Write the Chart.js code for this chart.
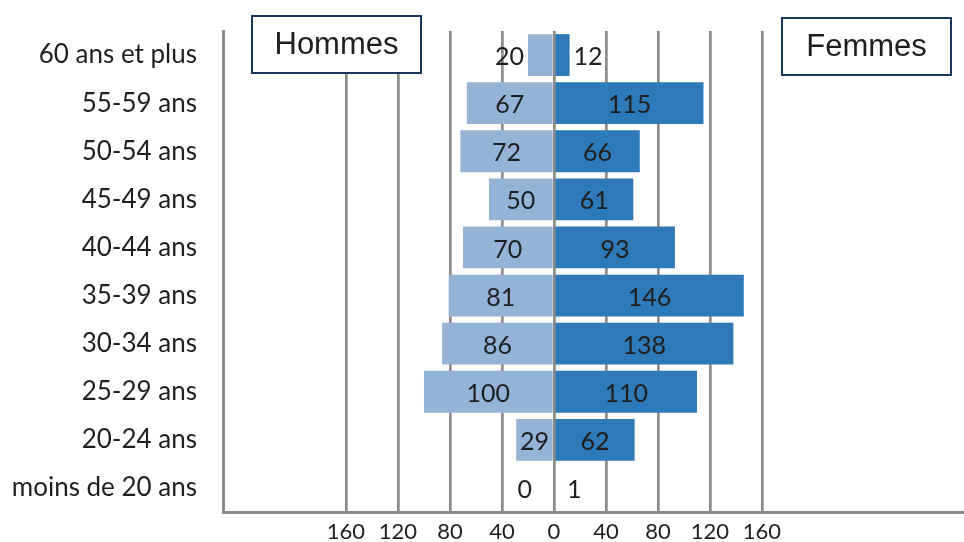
<!DOCTYPE html>
<html lang="fr">
<head>
<meta charset="utf-8">
<title>Pyramide des âges</title>
<script src="https://cdn.jsdelivr.net/npm/chart.js@4/dist/chart.umd.min.js"></script>
<style>
  html, body { margin: 0; padding: 0; background: #ffffff; }
  #wrap { width: 964px; height: 542px; }
</style>
</head>
<body>
<div id="wrap"><canvas id="pyramide" width="964" height="542"></canvas></div>
<script>
// Tranches d'âge, de la plus âgée (en haut) à la plus jeune (en bas)
const ageGroups = ['60 ans et plus', '55-59 ans', '50-54 ans', '45-49 ans', '40-44 ans',
                   '35-39 ans', '30-34 ans', '25-29 ans', '20-24 ans', 'moins de 20 ans'];
// Effectifs par sexe
const hommes = [20, 67, 72, 50, 70, 81, 86, 100, 29, 0];
const femmes = [12, 115, 66, 61, 93, 146, 138, 110, 62, 1];
// Graduations de l'axe horizontal (valeurs négatives = côté hommes)
const axisTicks = [-160, -120, -80, -40, 0, 40, 80, 120, 160];
// Étendue de l'axe horizontal
const axisMin = -254.6;
const axisMax = 315.4;

const GRID = '#8e8a87';
const INK = '#1e1e1e';
const LABEL_FONT = 'Lato, "Open Sans", sans-serif';

// Étiquettes de valeur : centrées dans la barre, ou à l'extérieur si la barre est trop courte
const valueLabels = {
  id: 'valueLabels',
  afterDatasetsDraw(chart) {
    const ctx = chart.ctx;
    const zero = chart.scales.x.getPixelForValue(0);
    ctx.save();
    ctx.font = '25px ' + LABEL_FONT;
    ctx.fillStyle = INK;
    ctx.textBaseline = 'middle';
    chart.data.datasets.forEach((ds, di) => {
      const src = di === 0 ? hommes : femmes;
      chart.getDatasetMeta(di).data.forEach((bar, i) => {
        const txt = String(src[i]);
        const w = ctx.measureText(txt).width;
        const len = Math.abs(bar.x - bar.base);
        const y = bar.y + 2;
        if (len >= w + 4) {
          ctx.textAlign = 'center';
          ctx.fillText(txt, (bar.x + bar.base) / 2, y);
        } else if (di === 0) {
          ctx.textAlign = 'right';
          ctx.fillText(txt, Math.min(bar.x - 4, zero - 22), y);
        } else {
          ctx.textAlign = 'left';
          ctx.fillText(txt, Math.max(bar.x + 4, zero + 13), y);
        }
      });
    });
    ctx.restore();
  }
};

// Cartouches « Hommes » et « Femmes » en haut du graphique
const sideTitles = {
  id: 'sideTitles',
  afterDraw(chart) {
    const ctx = chart.ctx;
    const boxes = [
      { text: 'Hommes', x: 252, y: 16, w: 169, h: 57 },
      { text: 'Femmes', x: 782, y: 18, w: 169, h: 57 }
    ];
    ctx.save();
    boxes.forEach(b => {
      ctx.fillStyle = '#ffffff';
      ctx.fillRect(b.x, b.y, b.w, b.h);
      ctx.strokeStyle = '#17375e';
      ctx.lineWidth = 2;
      ctx.strokeRect(b.x, b.y, b.w, b.h);
      ctx.fillStyle = INK;
      ctx.font = '31px "Liberation Sans", Arial, sans-serif';
      ctx.textAlign = 'center';
      ctx.textBaseline = 'middle';
      ctx.fillText(b.text, b.x + b.w / 2, b.y + b.h / 2 + 1);
    });
    ctx.restore();
  }
};

new Chart(document.getElementById('pyramide'), {
  type: 'bar',
  data: {
    labels: ageGroups,
    datasets: [
      {
        label: 'Hommes',
        data: hommes.map(v => -v),
        backgroundColor: '#95b3d7',
        borderWidth: 0,
        categoryPercentage: 1,
        barPercentage: 0.87
      },
      {
        label: 'Femmes',
        data: femmes,
        backgroundColor: '#2e79b7',
        borderWidth: 0,
        categoryPercentage: 1,
        barPercentage: 0.87
      }
    ]
  },
  options: {
    indexAxis: 'y',
    responsive: false,
    animation: false,
    devicePixelRatio: 1,
    layout: { padding: { top: 31, left: 0, right: 0, bottom: 0 } },
    plugins: {
      legend: { display: false },
      tooltip: { enabled: false },
      title: { display: false }
    },
    scales: {
      x: {
        stacked: true,
        min: axisMin,
        max: axisMax,
        afterBuildTicks(scale) {
          scale.ticks = axisTicks.map(v => ({ value: v }));
        },
        afterFit(scale) {
          scale.height = 30;
          scale.paddingLeft = 0;
          scale.paddingRight = 0;
        },
        ticks: {
          autoSkip: false,
          maxRotation: 0,
          padding: 7,
          color: INK,
          font: { family: LABEL_FONT, size: 22 },
          callback: v => String(Math.abs(v))
        },
        grid: { color: GRID, lineWidth: 2.7, drawTicks: false },
        border: { display: true, color: GRID, width: 3 }
      },
      y: {
        stacked: true,
        afterFit(scale) {
          scale.width = 223;
          scale.paddingTop = 0;
          scale.paddingBottom = 0;
        },
        ticks: {
          padding: 26,
          color: INK,
          font: { family: LABEL_FONT, size: 26 }
        },
        grid: { display: false, drawTicks: false },
        border: { display: true, color: GRID, width: 3 }
      }
    }
  },
  plugins: [valueLabels, sideTitles]
});
</script>
</body>
</html>
